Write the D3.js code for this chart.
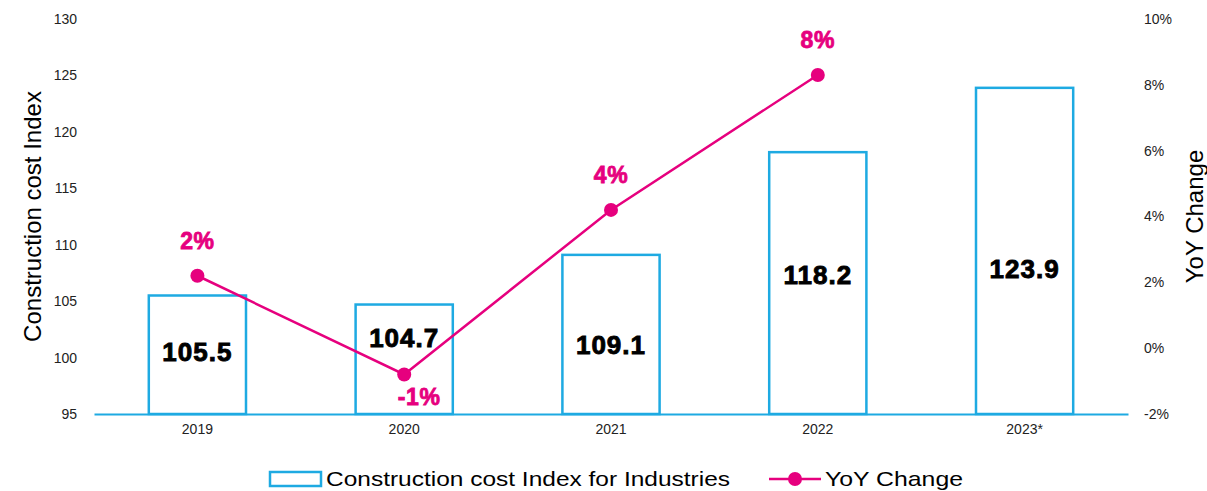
<!DOCTYPE html>
<html>
<head>
<meta charset="utf-8">
<script src="https://cdn.jsdelivr.net/npm/d3@7"></script>
<style>
  body { margin: 0; background: #fff; }
  svg text { font-family: "Liberation Sans", Arial, sans-serif; }
</style>
</head>
<body>
<svg id="chart" width="1207" height="491"></svg>
<script>
// Construction cost index chart

const years = ['2019', '2020', '2021', '2022', '2023*'];
const indexValues = [105.5, 104.7, 109.1, 118.2, 123.9];
const yoyValues = [2.2, -0.8, 4.2, 8.3, null];
const yoyLabels = ['2%', '-1%', '4%', '8%', ''];
const leftTicks = [95, 100, 105, 110, 115, 120, 125, 130];
const rightTicks = [-2, 0, 2, 4, 6, 8, 10];

// index level where each bar's value label sits (as placed in the original)
const barLabelLevel = [100.5, 101.7, 101.1, 107.3, 107.9];

const blue = '#1eaae2';
const pink = '#e6007e';

const svg = d3.select('#chart');
const margin = { left: 94, right: 79, top: 19, bottom: 77 };
const width = 1207, height = 491;

const x = d3.scaleBand()
  .domain(years)
  .range([margin.left, width - margin.right])
  .paddingInner(0.53)
  .paddingOuter(0.265);

const yLeft = d3.scaleLinear().domain([95, 130]).range([height - margin.bottom, margin.top]);
const yRight = d3.scaleLinear().domain([-2, 10]).range([height - margin.bottom, margin.top]);

// Left axis (labels only)
const leftAxis = svg.append('g')
  .attr('transform', `translate(${margin.left - 17},0)`)
  .call(d3.axisLeft(yLeft).tickValues(leftTicks).tickSize(0).tickPadding(0));
leftAxis.select('.domain').remove();
leftAxis.selectAll('text').attr('font-size', 14).attr('fill', '#222');

// Right axis (labels only)
const rightAxis = svg.append('g')
  .attr('transform', `translate(${width - margin.right + 16},0)`)
  .call(d3.axisRight(yRight).tickValues(rightTicks).tickSize(0).tickPadding(0)
    .tickFormat(d => d + '%'));
rightAxis.select('.domain').remove();
rightAxis.selectAll('text').attr('font-size', 14).attr('fill', '#222');

// Bars
svg.append('g')
  .selectAll('rect')
  .data(years)
  .enter()
  .append('rect')
  .attr('x', d => x(d))
  .attr('y', (d, i) => yLeft(indexValues[i]))
  .attr('width', x.bandwidth())
  .attr('height', (d, i) => yLeft(95) - yLeft(indexValues[i]))
  .attr('fill', '#fff')
  .attr('stroke', blue)
  .attr('stroke-width', 2.5);

// Category axis
const bottomAxis = svg.append('g')
  .attr('transform', `translate(0,${yLeft(95)})`)
  .call(d3.axisBottom(x).tickSize(0).tickPadding(10));
bottomAxis.select('.domain').attr('stroke', blue).attr('stroke-width', 2);
bottomAxis.selectAll('text').attr('font-size', 14).attr('fill', '#222');

// Bar value labels
svg.append('g')
  .selectAll('text')
  .data(years)
  .enter()
  .append('text')
  .attr('x', d => x(d) + x.bandwidth() / 2)
  .attr('y', (d, i) => yLeft(barLabelLevel[i]))
  .attr('dy', '0.35em')
  .attr('text-anchor', 'middle')
  .attr('font-size', 26)
  .attr('font-weight', 'bold')
  .attr('letter-spacing', 1)
  .attr('fill', '#000')
  .attr('stroke', '#000')
  .attr('stroke-width', 0.9)
  .text((d, i) => indexValues[i].toFixed(1));

// YoY line
const pts = years.map((d, i) => ({ year: d, v: yoyValues[i], label: yoyLabels[i] }))
  .filter(p => p.v !== null);

const line = d3.line()
  .x(d => x(d.year) + x.bandwidth() / 2)
  .y(d => yRight(d.v));

svg.append('path')
  .datum(pts)
  .attr('d', line)
  .attr('fill', 'none')
  .attr('stroke', pink)
  .attr('stroke-width', 2.5);

svg.append('g')
  .selectAll('circle')
  .data(pts)
  .enter()
  .append('circle')
  .attr('cx', d => x(d.year) + x.bandwidth() / 2)
  .attr('cy', d => yRight(d.v))
  .attr('r', 7)
  .attr('fill', pink);

svg.append('g')
  .selectAll('text')
  .data(pts)
  .enter()
  .append('text')
  .attr('x', d => x(d.year) + x.bandwidth() / 2 + (d.v < 0 ? 15 : 0))
  .attr('y', d => yRight(d.v) + (d.v < 0 ? 22 : -35))
  .attr('dy', '0.35em')
  .attr('text-anchor', 'middle')
  .attr('font-size', 23)
  .attr('font-weight', 'bold')
  .attr('letter-spacing', 0.6)
  .attr('fill', pink)
  .attr('stroke', pink)
  .attr('stroke-width', 0.8)
  .text(d => d.label);

// Axis titles
svg.append('text')
  .attr('transform', `translate(41,${(margin.top + yLeft(95)) / 2}) rotate(-90)`)
  .attr('text-anchor', 'middle')
  .attr('font-size', 24)
  .attr('fill', '#000')
  .text('Construction cost Index');

svg.append('text')
  .attr('transform', `translate(1203,${(margin.top + yLeft(95)) / 2}) rotate(-90)`)
  .attr('text-anchor', 'middle')
  .attr('font-size', 24)
  .attr('fill', '#000')
  .text('YoY Change');

// Legend
const legend = svg.append('g').attr('transform', 'translate(0,479)');
legend.append('rect')
  .attr('x', 270).attr('y', -7).attr('width', 51).attr('height', 14)
  .attr('fill', '#fff').attr('stroke', blue).attr('stroke-width', 2.5);
legend.append('text')
  .attr('x', 326).attr('dy', '0.35em')
  .attr('font-size', 21).attr('fill', '#000')
  .attr('textLength', 404).attr('lengthAdjust', 'spacingAndGlyphs')
  .text('Construction cost Index for Industries');
legend.append('line')
  .attr('x1', 769).attr('x2', 821).attr('y1', 0).attr('y2', 0)
  .attr('stroke', pink).attr('stroke-width', 2.5);
legend.append('circle')
  .attr('cx', 795).attr('cy', 0).attr('r', 7).attr('fill', pink);
legend.append('text')
  .attr('x', 825).attr('dy', '0.35em')
  .attr('font-size', 21).attr('fill', '#000')
  .attr('textLength', 138).attr('lengthAdjust', 'spacingAndGlyphs')
  .text('YoY Change');
</script>
</body>
</html>
